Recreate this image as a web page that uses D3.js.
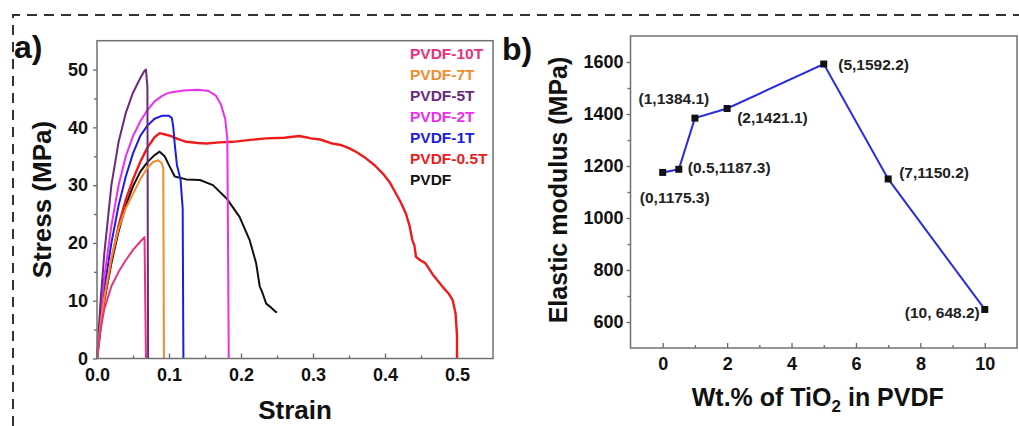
<!DOCTYPE html>
<html>
<head>
<meta charset="utf-8">
<script src="https://cdn.jsdelivr.net/npm/d3@7"></script>
<style>
  body { margin: 0; background: #fff; }
  svg { display: block; font-family: "Liberation Sans", Arial, sans-serif; font-weight: bold; }
  .axis text { fill: #111; font-size: 18px; }
  .axis line { stroke: #666; stroke-width: 1.3; }
  .axis path { display: none; }
</style>
</head>
<body>
<svg id="chart" width="1019" height="426"></svg>
<script>
// ---- panel a: stress-strain curves ----
const seriesNames = ["PVDF-10T", "PVDF-7T", "PVDF-5T", "PVDF-2T", "PVDF-1T", "PVDF-0.5T", "PVDF"];

const strainPVDF = [0, 0.005, 0.01, 0.02, 0.03, 0.04, 0.05, 0.06, 0.07, 0.08, 0.087, 0.094, 0.101, 0.108, 0.124, 0.143, 0.161, 0.18, 0.198, 0.212, 0.221, 0.226, 0.23, 0.235, 0.242, 0.248, 0.25];
const stressPVDF = [0, 5.5, 10, 16.5, 22, 26.5, 29.8, 32.3, 34, 35.2, 35.8, 35, 33.2, 31.5, 31, 30.9, 30, 27.7, 24.5, 20.5, 16.5, 12.5, 11.3, 9.5, 8.8, 8.1, 8];

const strain05T = [0, 0.005, 0.01, 0.02, 0.03, 0.04, 0.05, 0.06, 0.07, 0.08, 0.087, 0.1, 0.112, 0.124, 0.14, 0.152, 0.17, 0.189, 0.21, 0.235, 0.26, 0.281, 0.29, 0.297, 0.31, 0.327, 0.34, 0.35, 0.362, 0.374, 0.386, 0.397, 0.407, 0.415, 0.422, 0.429, 0.434, 0.438, 0.441, 0.443, 0.449, 0.456, 0.466, 0.48, 0.488, 0.494, 0.498, 0.5, 0.5];
const stress05T = [0, 5.5, 10, 17, 23, 27.5, 31, 34, 36.5, 38.3, 39, 38.6, 38, 37.5, 37.3, 37.2, 37.4, 37.5, 37.8, 38.1, 38.2, 38.5, 38.3, 38.1, 37.9, 37.2, 36.9, 36.4, 35.6, 34.6, 33.4, 32, 30.4, 28.6, 27, 25.1, 23, 20.5, 19.5, 17.6, 17, 16.5, 14.6, 12.4, 11.3, 10.1, 7.8, 4, 0];

const strain1T = [0, 0.005, 0.01, 0.02, 0.03, 0.04, 0.05, 0.06, 0.07, 0.08, 0.09, 0.1, 0.104, 0.106, 0.108, 0.111, 0.116, 0.119, 0.12];
const stress1T = [0, 7, 12, 20, 26.5, 31.5, 35.5, 38.5, 40.3, 41.5, 42, 42, 41.6, 40, 37, 33.5, 31, 26, 0];

const strain2T = [0, 0.005, 0.01, 0.02, 0.03, 0.04, 0.05, 0.06, 0.07, 0.08, 0.09, 0.1, 0.12, 0.14, 0.155, 0.165, 0.172, 0.178, 0.181, 0.182, 0.183];
const stress2T = [0, 8, 14, 23, 30, 35, 38.5, 41, 43, 44.5, 45.4, 46, 46.4, 46.5, 46.3, 45.5, 44, 41.5, 38, 20, 0];

const strain5T = [0, 0.005, 0.01, 0.02, 0.03, 0.04, 0.05, 0.06, 0.066, 0.068, 0.07, 0.071];
const stress5T = [0, 10, 18, 30, 37.5, 42.5, 46, 48.5, 49.8, 50, 47, 0];

const strain7T = [0, 0.005, 0.01, 0.02, 0.03, 0.04, 0.05, 0.06, 0.07, 0.078, 0.085, 0.09, 0.092, 0.093];
const stress7T = [0, 6, 10.5, 17.5, 22.5, 26, 28.5, 31, 33, 34, 34.3, 33.8, 33, 0];

const strain10T = [0, 0.005, 0.01, 0.02, 0.03, 0.04, 0.05, 0.06, 0.066, 0.068];
const stress10T = [0, 5, 8.5, 12.5, 15, 17, 18.8, 20.2, 21, 0];

const strainTicks = [0, 0.1, 0.2, 0.3, 0.4, 0.5];
const stressTicks = [0, 10, 20, 30, 40, 50];

// ---- panel b: elastic modulus ----
const tio2Wt = [0, 0.5, 1, 2, 5, 7, 10];
const modulus = [1175.3, 1187.3, 1384.1, 1421.1, 1592.2, 1150.2, 648.2];
const pointLabels = ["(0,1175.3)", "(0.5,1187.3)", "(1,1384.1)", "(2,1421.1)", "(5,1592.2)", "(7,1150.2)", "(10, 648.2)"];
const wtTicks = [0, 2, 4, 6, 8, 10];
const modulusTicks = [600, 800, 1000, 1200, 1400, 1600];

const colors = {
  "PVDF-10T": "#e8327f", "PVDF-7T": "#f28c2c", "PVDF-5T": "#6b2a7c", "PVDF-2T": "#ee2eee",
  "PVDF-1T": "#1c1ce0", "PVDF-0.5T": "#ec1c1c", "PVDF": "#111111"
};

const curves = {
  "PVDF": [strainPVDF, stressPVDF],
  "PVDF-0.5T": [strain05T, stress05T],
  "PVDF-1T": [strain1T, stress1T],
  "PVDF-2T": [strain2T, stress2T],
  "PVDF-5T": [strain5T, stress5T],
  "PVDF-7T": [strain7T, stress7T],
  "PVDF-10T": [strain10T, stress10T]
};

const svg = d3.select("#chart");

// dashed frame
svg.append("path")
  .attr("d", "M13,426 L13,15 L1019,15")
  .attr("fill", "none")
  .attr("stroke", "#333")
  .attr("stroke-width", 2)
  .attr("stroke-dasharray", "10,7");

// ================= panel a =================
let A = { left: 97, right: 493, top: 40.7, bottom: 358.5 };
let xa = d3.scaleLinear().domain([0, 0.55]).range([A.left, A.right]);
let ya = d3.scaleLinear().domain([0, 55]).range([A.bottom, A.top]);

let ga = svg.append("g");

// minor ticks
ga.append("g").attr("class", "axis")
  .attr("transform", "translate(" + A.left + ",0)")
  .call(d3.axisLeft(ya).tickValues([5, 15, 25, 35, 45]).tickSize(3).tickFormat(""));
ga.append("g").attr("class", "axis")
  .attr("transform", "translate(0," + A.bottom + ")")
  .call(d3.axisBottom(xa).tickValues([0.05, 0.15, 0.25, 0.35, 0.45]).tickSizeInner(-3).tickSizeOuter(0).tickFormat(""));

ga.append("g").attr("class", "axis")
  .attr("transform", "translate(" + A.left + ",0)")
  .call(d3.axisLeft(ya).tickValues(stressTicks).tickSize(4).tickPadding(5).tickFormat(d3.format("d")));
ga.append("g").attr("class", "axis")
  .attr("transform", "translate(0," + A.bottom + ")")
  .call(d3.axisBottom(xa).tickValues(strainTicks).tickSizeInner(-5).tickSizeOuter(0).tickPadding(10).tickFormat(d3.format(".1f")));

const lineA = d3.line().x(d => xa(d[0])).y(d => ya(d[1]));

Object.keys(curves).forEach((name) => {
  let c = curves[name];
  let pts = c[0].map((s, i) => [s, c[1][i]]);
  ga.append("path")
    .attr("d", lineA(pts))
    .attr("fill", "none")
    .attr("stroke", colors[name])
    .attr("stroke-width", name == "PVDF-0.5T" ? 2.4 : 2)
    .attr("stroke-linejoin", "round");
});

ga.append("rect")
  .attr("x", A.left).attr("y", A.top)
  .attr("width", A.right - A.left).attr("height", A.bottom - A.top)
  .attr("fill", "none").attr("stroke", "#707070").attr("stroke-width", 1.5);

// legend
seriesNames.forEach((name, i) => {
  ga.append("text")
    .attr("x", 410)
    .attr("y", 53 + i * 21)
    .attr("dominant-baseline", "central")
    .attr("font-size", 15.5)
    .attr("fill", colors[name])
    .text(name);
});

ga.append("text").attr("x", 14).attr("y", 58).attr("font-size", 32).attr("fill", "#111").text("a)");

ga.append("text")
  .attr("transform", "translate(51," + ((A.top + A.bottom) / 2) + ") rotate(-90)")
  .attr("text-anchor", "middle")
  .attr("font-size", 26).attr("fill", "#111")
  .text("Stress (MPa)");

ga.append("text")
  .attr("x", (A.left + A.right) / 2).attr("y", 419)
  .attr("text-anchor", "middle")
  .attr("font-size", 26).attr("fill", "#111")
  .text("Strain");

// ================= panel b =================
let B = { left: 630.5, right: 1017, top: 36, bottom: 348 };
let xb = d3.scaleLinear().domain([-1, 11]).range([B.left, B.right]);
let yb = d3.scaleLinear().domain([500, 1700]).range([B.bottom, B.top]);

let gb = svg.append("g");

gb.append("g").attr("class", "axis")
  .attr("transform", "translate(" + B.left + ",0)")
  .call(d3.axisLeft(yb).tickValues([700, 900, 1100, 1300, 1500]).tickSize(3).tickFormat(""));
gb.append("g").attr("class", "axis")
  .attr("transform", "translate(0," + B.bottom + ")")
  .call(d3.axisBottom(xb).tickValues([1, 3, 5, 7, 9]).tickSizeInner(-3).tickSizeOuter(0).tickFormat(""));

gb.append("g").attr("class", "axis")
  .attr("transform", "translate(" + B.left + ",0)")
  .call(d3.axisLeft(yb).tickValues(modulusTicks).tickSize(4).tickPadding(3).tickFormat(d3.format("d")));
gb.append("g").attr("class", "axis")
  .attr("transform", "translate(0," + B.bottom + ")")
  .call(d3.axisBottom(xb).tickValues(wtTicks).tickSizeInner(-5).tickSizeOuter(0).tickPadding(9).tickFormat(d3.format("d")));

const pts = tio2Wt.map((w, i) => [w, modulus[i]]);
const lineB = d3.line().x(d => xb(d[0])).y(d => yb(d[1]));

gb.append("path")
  .attr("d", lineB(pts))
  .attr("fill", "none")
  .attr("stroke", "#2b2be0")
  .attr("stroke-width", 2);

gb.selectAll("rect.pt").data(pts).enter()
  .append("rect")
  .attr("class", "pt")
  .attr("x", d => xb(d[0]) - 3.5)
  .attr("y", d => yb(d[1]) - 3.5)
  .attr("width", 7).attr("height", 7)
  .attr("fill", "#111");

// label placement next to each point: [dx, dy, anchor]
const labelPlace = [[12, 24.6, "middle"], [9, -1.6, "start"], [-21, -20, "middle"], [10, 8.5, "start"], [14.5, 0, "start"], [11, -6, "start"], [-5, 3.5, "end"]];

gb.selectAll("text.lbl").data(pts).enter()
  .append("text")
  .attr("class", "lbl")
  .attr("x", (d, i) => xb(d[0]) + labelPlace[i][0])
  .attr("y", (d, i) => yb(d[1]) + labelPlace[i][1])
  .attr("text-anchor", (d, i) => labelPlace[i][2])
  .attr("dominant-baseline", "central")
  .attr("font-size", 15.5)
  .attr("fill", "#222")
  .text((d, i) => pointLabels[i]);

gb.append("rect")
  .attr("x", B.left).attr("y", B.top)
  .attr("width", B.right - B.left).attr("height", B.bottom - B.top)
  .attr("fill", "none").attr("stroke", "#707070").attr("stroke-width", 1.5);

gb.append("text").attr("x", 502).attr("y", 60).attr("font-size", 32).attr("fill", "#111").text("b)");

gb.append("text")
  .attr("transform", "translate(567,190) rotate(-90)")
  .attr("text-anchor", "middle")
  .attr("font-size", 25).attr("fill", "#111")
  .text("Elastic modulus (MPa)");

let xt = gb.append("text")
  .attr("x", (B.left + B.right) / 2 - 6).attr("y", 406)
  .attr("text-anchor", "middle")
  .attr("font-size", 25).attr("fill", "#111");
xt.append("tspan").text("Wt.% of TiO");
xt.append("tspan").attr("font-size", 17).attr("dy", 6).text("2");
xt.append("tspan").attr("dy", -6).text(" in PVDF");
</script>
</body>
</html>
